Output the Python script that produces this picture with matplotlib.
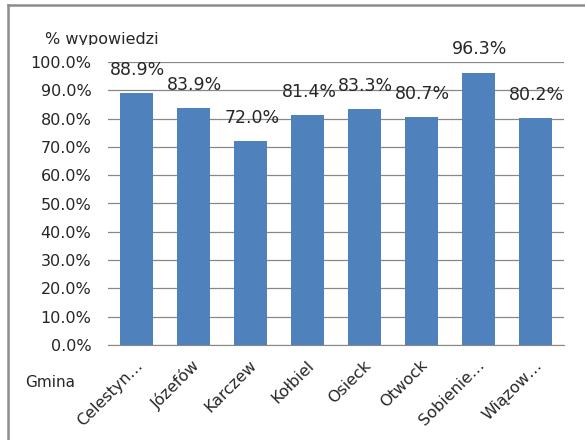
import matplotlib
matplotlib.use("Agg")
import matplotlib.pyplot as plt
from matplotlib.lines import Line2D
from matplotlib.ticker import PercentFormatter
from matplotlib.transforms import Bbox, ScaledTranslation

# =========================
# Data
# =========================
gminy = ["Celestyn…", "Józefów", "Karczew", "Kołbiel",
         "Osieck", "Otwock", "Sobienie…", "Wiązow…"]
wartosci = [88.9, 83.9, 72.0, 81.4, 83.3, 80.7, 96.3, 80.2]
y_ticks = [0, 10, 20, 30, 40, 50, 60, 70, 80, 90, 100]

plt.rcParams["font.family"] = ["DejaVu Sans"]
txt_color = "#262626"

fig = plt.figure(figsize=(5.85, 4.4), dpi=100)
ax = fig.add_axes([0.1846, 0.216, 0.7795, 0.643])

x = range(len(gminy))
bars = ax.bar(x, wartosci, width=0.58, color="#4F81BD", zorder=2)

# data labels above bars
for rect, val in zip(bars, wartosci):
    ax.annotate(f"{val:.1f}%",
                (rect.get_x() + rect.get_width() / 2, rect.get_height()),
                xytext=(1, 13), textcoords="offset points",
                ha="center", va="baseline", fontsize=12.5, color=txt_color,
                zorder=3)

ax.set_xlim(-0.5, len(gminy) - 0.5)
ax.set_ylim(0, 100)
ax.set_yticks(y_ticks)
ax.yaxis.set_major_formatter(PercentFormatter(decimals=1))
ax.grid(axis="y", color="#888888", linewidth=0.9, zorder=0)

ax.set_xticks(list(x))
ax.set_xticklabels(gminy, rotation=45, ha="right", va="center",
                   rotation_mode="anchor")
ax.tick_params(axis="both", length=0, colors=txt_color, labelsize=11.5)
ax.tick_params(axis="y", pad=12)
ax.tick_params(axis="x", pad=13)

# shift x labels a bit to the right, like Excel does
shift = ScaledTranslation(4 / 100, 0, fig.dpi_scale_trans)
for lbl in ax.get_xticklabels():
    lbl.set_transform(lbl.get_transform() + shift)

for side in ["left", "right", "top"]:
    ax.spines[side].set_visible(False)
ax.spines["bottom"].set_color("#888888")

# axis titles placed like in the Excel chart (top one is clipped at the bottom)
t = fig.text(45 / 585, 1 - 44 / 440, "% wypowiedzi", ha="left", va="baseline",
             fontsize=11.5, color=txt_color)
t.set_clip_box(Bbox([[0, 440 - 45], [585, 440]]))
t.set_clip_on(True)
fig.text(25 / 585, 1 - 382 / 440, "Gmina", ha="left", va="center",
         fontsize=11, color=txt_color)

# chart border (left and top visible in the crop)
fig.add_artist(Line2D([8 / 585, 8 / 585], [0, 1 - 5 / 440],
                      transform=fig.transFigure, color="#8c8c8c", linewidth=1.8))
fig.add_artist(Line2D([8 / 585, 1], [1 - 5 / 440, 1 - 5 / 440],
                      transform=fig.transFigure, color="#8c8c8c", linewidth=1.8))

fig.savefig("out.png", dpi=100)
